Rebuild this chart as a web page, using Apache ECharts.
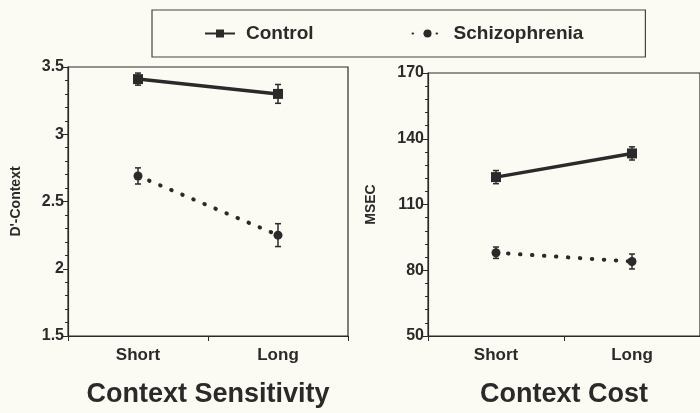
<!DOCTYPE html>
<html>
<head>
<meta charset="utf-8">
<script src="https://cdn.jsdelivr.net/npm/echarts@6/dist/echarts.min.js"></script>
<style>
html,body{margin:0;padding:0;background:#fcfbf3;}
#chart{width:700px;height:413px;}
</style>
</head>
<body>
<div id="chart"></div>
<script>
// ---- data ----
const categories = ['Short', 'Long'];
const seriesNames = ['Control', 'Schizophrenia'];
// Panel 1: Context Sensitivity (D'-Context)
const sensControl = [3.41, 3.30];
const sensControlErr = [0.045, 0.07];
const sensSchiz = [2.69, 2.25];
const sensSchizErr = [0.06, 0.085];
// Panel 2: Context Cost (MSEC)
const costControl = [122.5, 133.3];
const costControlErr = [3, 3];
const costSchiz = [88, 84];
const costSchizErr = [2.6, 3.4];
// axis ticks
const sensTicks = [1.5, 2, 2.5, 3, 3.5];
const costTicks = [50, 80, 110, 140, 170];

const ink = '#2a2a2a';
const font = '"Liberation Sans", Arial, sans-serif';

function errData(means, errs) {
  return means.map((m, i) => [i, m - errs[i], m + errs[i]]);
}
function errSeries(means, errs, xi, yi) {
  return {
    type: 'custom',
    xAxisIndex: xi, yAxisIndex: yi,
    silent: true,
    z: 1,
    data: errData(means, errs),
    renderItem: function (params, api) {
      const lo = api.coord([api.value(0), api.value(1)]);
      const hi = api.coord([api.value(0), api.value(2)]);
      const w = 3;
      const st = { stroke: ink, lineWidth: 1.5 };
      return {
        type: 'group',
        children: [
          { type: 'line', shape: { x1: lo[0], y1: lo[1], x2: hi[0], y2: hi[1] }, style: st },
          { type: 'line', shape: { x1: lo[0] - w, y1: lo[1], x2: lo[0] + w, y2: lo[1] }, style: st },
          { type: 'line', shape: { x1: hi[0] - w, y1: hi[1], x2: hi[0] + w, y2: hi[1] }, style: st }
        ]
      };
    }
  };
}
function controlSeries(data, xi, yi) {
  return {
    name: seriesNames[0], type: 'line', xAxisIndex: xi, yAxisIndex: yi,
    data: data, symbol: 'rect', symbolSize: 10, z: 3,
    lineStyle: { color: ink, width: 3.5 },
    itemStyle: { color: ink }
  };
}
function schizSeries(data, xi, yi) {
  return {
    name: seriesNames[1], type: 'line', xAxisIndex: xi, yAxisIndex: yi,
    data: data, symbol: 'circle', symbolSize: 9, z: 3,
    lineStyle: { color: ink, width: 4, type: [0.5, 11.5], cap: 'round' },
    itemStyle: { color: ink }
  };
}

function xAxisCfg(gi, title) {
  return {
    type: 'category', gridIndex: gi, data: categories, boundaryGap: true,
    axisLine: { lineStyle: { color: ink, width: 1.2 } },
    axisTick: { show: true, length: 5, lineStyle: { color: ink } },
    axisLabel: { color: ink, fontFamily: font, fontWeight: 'bold', fontSize: 17, margin: 11 },
    name: title, nameLocation: 'middle', nameGap: 45,
    nameTextStyle: { color: ink, fontFamily: font, fontWeight: 'bold', fontSize: 27 }
  };
}
function yAxisCfg(gi, ticks, name, gap) {
  return {
    type: 'value', gridIndex: gi,
    min: ticks[0], max: ticks[ticks.length - 1], interval: ticks[1] - ticks[0],
    axisLine: { show: true, lineStyle: { color: ink, width: 1.2 } },
    axisTick: { show: true, length: 5, lineStyle: { color: ink } },
    minorTick: { show: true, splitNumber: 5, length: 3, lineStyle: { color: ink } },
    splitLine: { show: false },
    axisLabel: { color: ink, fontFamily: font, fontWeight: 'bold', fontSize: 16, margin: 4 },
    name: name, nameLocation: 'middle', nameRotate: 90, nameGap: gap,
    nameTextStyle: { color: ink, fontFamily: font, fontWeight: 'bold', fontSize: 14 }
  };
}

const chart = echarts.init(document.getElementById('chart'), null, { renderer: 'canvas' });
chart.setOption({
  backgroundColor: '#fcfbf3',
  animation: false,
  legend: {
    data: seriesNames,
    left: 152, top: 10,
    padding: [14, 62, 14, 52],
    itemGap: 98, itemWidth: 30, itemHeight: 10,
    borderColor: '#444', borderWidth: 1.2,
    textStyle: { color: ink, fontFamily: font, fontWeight: 'bold', fontSize: 19, padding: [0, 0, 0, 6] }
  },
  grid: [
    { left: 68, right: 352, top: 67, bottom: 71, show: true, borderColor: ink, borderWidth: 1.2, backgroundColor: 'transparent' },
    { left: 428, right: -3, top: 73, bottom: 65, show: true, borderColor: ink, borderWidth: 1.2, backgroundColor: 'transparent' }
  ],
  xAxis: [xAxisCfg(0, 'Context Sensitivity'), xAxisCfg(1, 'Context Cost')],
  yAxis: [yAxisCfg(0, sensTicks, "D'-Context", 45), yAxisCfg(1, costTicks, 'MSEC', 50)],
  series: [
    controlSeries(sensControl, 0, 0),
    schizSeries(sensSchiz, 0, 0),
    errSeries(sensControl, sensControlErr, 0, 0),
    errSeries(sensSchiz, sensSchizErr, 0, 0),
    controlSeries(costControl, 1, 1),
    schizSeries(costSchiz, 1, 1),
    errSeries(costControl, costControlErr, 1, 1),
    errSeries(costSchiz, costSchizErr, 1, 1)
  ]
});
</script>
</body>
</html>
